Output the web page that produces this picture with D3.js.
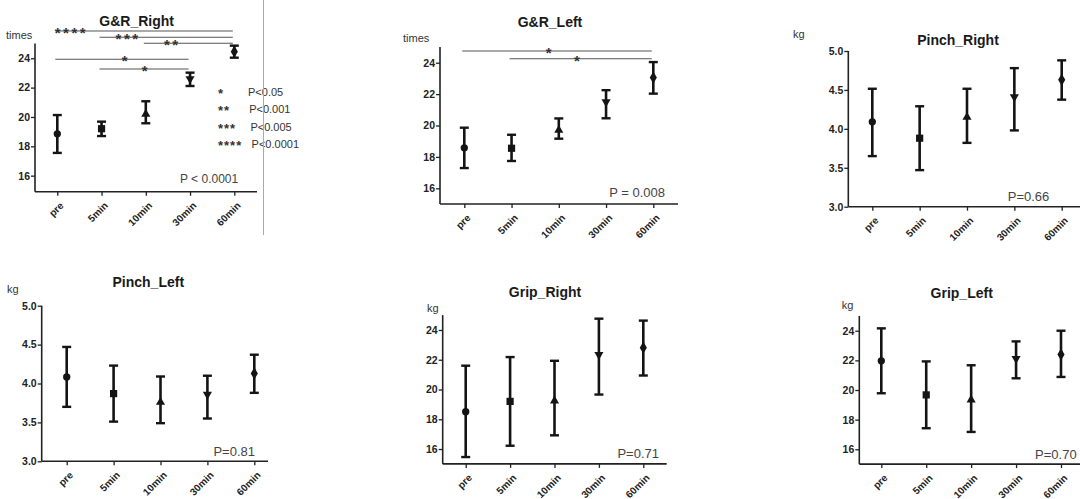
<!DOCTYPE html>
<html><head><meta charset="utf-8">
<script src="https://cdn.jsdelivr.net/npm/d3@7/dist/d3.min.js"></script>
<style>body{margin:0;background:#fff}svg{display:block}text{font-family:"Liberation Sans",Arial,sans-serif}</style>
</head><body>
<script>
// ---------- data ----------
const categories = ["pre","5min","10min","30min","60min"];
const titles = ["G&R_Right","G&R_Left","Pinch_Right","Pinch_Left","Grip_Right","Grip_Left"];
const units = ["times","times","kg","kg","kg","kg"];
const pLabels = ["P < 0.0001","P = 0.008","P=0.66","P=0.81","P=0.71","P=0.70"];
const ticksTimes = [16,18,20,22,24];
const ticksKg = [3.0,3.5,4.0,4.5,5.0];

const grRightMean  = [18.85,19.2,20.2,22.6,24.45];
const grRightLow   = [17.55,18.7,19.57,22.11,24.04];
const grRightHigh  = [20.13,19.68,21.07,23.02,24.86];
const grLeftMean   = [18.58,18.55,19.7,21.5,23.05];
const grLeftLow    = [17.29,17.74,19.16,20.46,22.03];
const grLeftHigh   = [19.86,19.41,20.45,22.25,24.04];
const pinchRightMean = [4.09,3.88,4.15,4.41,4.63];
const pinchRightLow  = [3.65,3.47,3.82,3.98,4.375];
const pinchRightHigh = [4.515,4.29,4.515,4.78,4.88];
const pinchLeftMean  = [4.085,3.87,3.76,3.86,4.13];
const pinchLeftLow   = [3.70,3.51,3.49,3.55,3.88];
const pinchLeftHigh  = [4.47,4.23,4.09,4.10,4.37];
const gripRightMean  = [18.51,19.2,19.24,22.34,22.81];
const gripRightLow   = [15.46,16.22,16.92,19.66,20.94];
const gripRightHigh  = [21.6,22.18,21.93,24.76,24.63];
const gripLeftMean   = [21.97,19.67,19.34,22.11,22.4];
const gripLeftLow    = [19.78,17.42,17.17,20.79,20.88];
const gripLeftHigh   = [24.16,21.93,21.67,23.28,24.0];

// significance bars: [fromIndex, toIndex, level(value), label, labelPos(index units)]
const sigRight = [[0,4,25.86,"****",0.32],[1,4,25.43,"***",1.6],[2,4,25.02,"**",2.6],[0,3,23.93,"*",1.55],[1,3,23.27,"*",2.0]];
const sigLeft  = [[0,4,24.75,"*",1.81],[1,4,24.25,"*",2.41]];
const legendStars = ["*","**","***","****"];
const legendP = ["P<0.05","P<0.001","P<0.005","P<0.0001"];

// ---------- layout ----------
const panels = [
  {mean:grRightMean, low:grRightLow, high:grRightHigh, dom:[14.9,25], yr:[191.8,43.6], ax:[35,257], cx:[57.3,234.3], ticks:ticksTimes, fmt:d3.format("d"),
   title:[136.7,26], unit:[6,39], p:[180,182.7,"start",12], sig:sigRight},
  {mean:grLeftMean, low:grLeftLow, high:grLeftHigh, dom:[15,25], yr:[204,47], ax:[440,678], cx:[464.3,653.3], ticks:ticksTimes, fmt:d3.format("d"),
   title:[550,27], unit:[403,41.5], p:[665,197.3,"end",13], sig:sigLeft},
  {mean:pinchRightMean, low:pinchRightLow, high:pinchRightHigh, dom:[3,5], yr:[206.7,51], ax:[848.3,1082], cx:[872.3,1061.7], ticks:ticksKg, fmt:d3.format(".1f"),
   title:[958,45], unit:[793,38], p:[1049.3,201,"end",13], sig:[]},
  {mean:pinchLeftMean, low:pinchLeftLow, high:pinchLeftHigh, dom:[3,5], yr:[461.3,305.7], ax:[41.7,268], cx:[66.7,254.3], ticks:ticksKg, fmt:d3.format(".1f"),
   title:[148.3,286.7], unit:[7,293.3], p:[255,456,"end",13], sig:[]},
  {mean:gripRightMean, low:gripRightLow, high:gripRightHigh, dom:[15,25], yr:[463.9,315.1], ax:[442.7,666.7], cx:[465.7,643.3], ticks:ticksTimes, fmt:d3.format("d"),
   title:[545,297.3], unit:[427,311.7], p:[659,457.7,"end",13], sig:[]},
  {mean:gripLeftMean, low:gripLeftLow, high:gripLeftHigh, dom:[15,25], yr:[464.1,315.9], ax:[859.3,1082], cx:[881.3,1061], ticks:ticksTimes, fmt:d3.format("d"),
   title:[961.7,297.7], unit:[841.7,309.3], p:[1076.7,459,"end",13], sig:[]}
];

const W=1080,H=499;
const svg = d3.select("body").append("svg").attr("width",W).attr("height",H);
const ink = "#141414";

const symbols = [
  d3.symbol().type(d3.symbolCircle).size(42),
  d3.symbol().type(d3.symbolSquare).size(52),
  d3.symbol().type(d3.symbolTriangle).size(36),
  d3.symbol().type(d3.symbolTriangle).size(36),
  d3.symbol().type(d3.symbolDiamond).size(44)
];

panels.forEach((P,i)=>{
  const g = svg.append("g");
  const x = d3.scalePoint().domain(categories).range(P.cx);
  const y = d3.scaleLinear().domain(P.dom).range(P.yr);
  const step = (P.cx[1]-P.cx[0])/(categories.length-1);
  const base = P.yr[0];

  // axis lines
  g.append("line").attr("x1",P.ax[0]).attr("x2",P.ax[1]).attr("y1",base).attr("y2",base)
    .attr("stroke","#222").attr("stroke-width",1.6);
  g.append("line").attr("x1",P.ax[0]).attr("x2",P.ax[0]).attr("y1",base).attr("y2",P.yr[1])
    .attr("stroke","#222").attr("stroke-width",1.6);

  // y axis ticks
  const ya = g.append("g").attr("transform",`translate(${P.ax[0]},0)`)
    .call(d3.axisLeft(y).tickValues(P.ticks).tickFormat(P.fmt).tickSize(4).tickPadding(1));
  ya.select(".domain").remove();
  ya.selectAll("line").attr("stroke","#222").attr("stroke-width",1.3);
  ya.selectAll("text").attr("font-size",10.5).attr("font-weight","bold").attr("fill","#222")
    .attr("font-family","Liberation Sans, Arial, sans-serif");

  // x axis ticks
  const xa = g.append("g").attr("transform",`translate(0,${base})`)
    .call(d3.axisBottom(x).tickSize(4).tickPadding(0));
  xa.select(".domain").remove();
  xa.selectAll("line").attr("stroke","#222").attr("stroke-width",1.3);
  xa.selectAll("text").attr("font-size",10).attr("font-weight","bold").attr("fill","#222")
    .attr("font-family","Liberation Sans, Arial, sans-serif")
    .attr("text-anchor","end").attr("y",0).attr("dy","0.35em")
    .attr("transform","translate(4,12) rotate(-45)");

  // error bars
  const eb = g.append("g").selectAll("g").data(categories).join("g");
  eb.append("line").attr("x1",d=>x(d)).attr("x2",d=>x(d))
    .attr("y1",(d,j)=>y(P.low[j])).attr("y2",(d,j)=>y(P.high[j]))
    .attr("stroke",ink).attr("stroke-width",2.6);
  eb.append("line").attr("x1",d=>x(d)-4.5).attr("x2",d=>x(d)+4.5)
    .attr("y1",(d,j)=>y(P.low[j])).attr("y2",(d,j)=>y(P.low[j]))
    .attr("stroke",ink).attr("stroke-width",2.4);
  eb.append("line").attr("x1",d=>x(d)-4.5).attr("x2",d=>x(d)+4.5)
    .attr("y1",(d,j)=>y(P.high[j])).attr("y2",(d,j)=>y(P.high[j]))
    .attr("stroke",ink).attr("stroke-width",2.4);
  eb.append("path").attr("d",(d,j)=>symbols[j]())
    .attr("transform",(d,j)=>`translate(${x(d)},${y(P.mean[j])})${j===3?" rotate(180)":""}`)
    .attr("fill",ink);

  // title, unit, p label
  g.append("text").attr("x",P.title[0]).attr("y",P.title[1]).attr("text-anchor","middle")
    .attr("font-size",14).attr("font-weight","bold").attr("fill","#1a1a1a").text(titles[i]);
  g.append("text").attr("x",P.unit[0]).attr("y",P.unit[1])
    .attr("font-size",11).attr("fill","#333").text(units[i]);
  g.append("text").attr("x",P.p[0]).attr("y",P.p[1]).attr("text-anchor",P.p[2])
    .attr("font-size",P.p[3]).attr("fill","#444").text(pLabels[i]);

  // significance bars
  P.sig.forEach(s=>{
    const yy = y(s[2]);
    g.append("line").attr("x1",x(categories[s[0]])-2).attr("x2",x(categories[s[1]])-1.5)
      .attr("y1",yy).attr("y2",yy).attr("stroke","#555").attr("stroke-width",1.1);
    g.append("text").attr("x",P.cx[0]+s[4]*step).attr("y",yy+7).attr("text-anchor","middle")
      .attr("font-size",15).attr("font-weight","bold").attr("fill","#333")
      .attr("letter-spacing","2.5px").text(s[3]);
  });
});

// legend in first panel
const lg = svg.append("g");
const rowY = [91.7,109,126.7,144.3];
legendStars.forEach((s,k)=>{
  lg.append("text").attr("x",218).attr("y",rowY[k]+6).attr("font-size",13).attr("font-weight","bold")
    .attr("fill","#333").attr("letter-spacing","1px").text(s);
  lg.append("text").attr("x",248+k*1.2).attr("y",rowY[k]+4).attr("font-size",11).attr("fill","#333").text(legendP[k]);
});
// separator
svg.append("line").attr("x1",263.5).attr("x2",263.5).attr("y1",0).attr("y2",235)
  .attr("stroke","#aaa").attr("stroke-width",1);
</script>
</body></html>
